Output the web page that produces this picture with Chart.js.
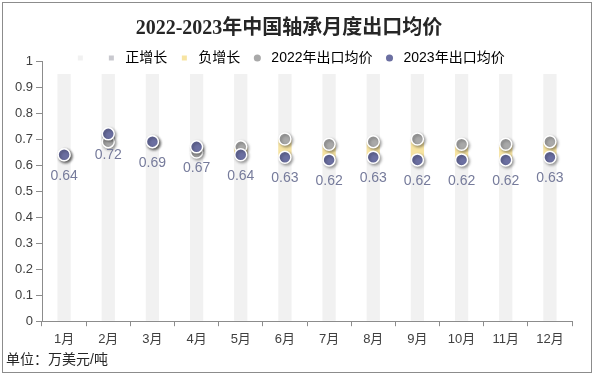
<!DOCTYPE html>
<html>
<head>
<meta charset="utf-8">
<script src="https://cdn.jsdelivr.net/npm/chart.js@4"></script>
<style>
  html, body { margin: 0; padding: 0; background: #fff; }
  #wrap { width: 596px; height: 376px; }
</style>
</head>
<body>
<div id="wrap"><canvas id="grafica" width="596" height="376"></canvas></div>
<script>
// Datos
const meses = ['1月', '2月', '3月', '4月', '5月', '6月', '7月', '8月', '9月', '10月', '11月', '12月'];
const precio2022 = [0.64, 0.69, 0.69, 0.65, 0.67, 0.70, 0.68, 0.69, 0.70, 0.68, 0.68, 0.69];
const precio2023 = [0.64, 0.72, 0.69, 0.67, 0.64, 0.63, 0.62, 0.63, 0.62, 0.62, 0.62, 0.63];
const fondo = [0.95, 0.95, 0.95, 0.95, 0.95, 0.95, 0.95, 0.95, 0.95, 0.95, 0.95, 0.95];

const fuente = "'Liberation Sans', 'Noto Sans CJK SC', sans-serif";
const colores = {
    fondo: '#f1f1f1',
    sube: '#c9c9cf',
    baja: '#f7e4a2',
    c2022: '#a9a9a9',
    c2023: '#6b6fa1'
};

// barras flotantes entre los dos años
const subida = precio2022.map((v, i) => precio2023[i] > v ? [v, precio2023[i]] : null);
const bajada = precio2022.map((v, i) => precio2023[i] < v ? [precio2023[i], v] : null);

// Sombra suave en los puntos
const sombraPuntos = {
    id: 'sombraPuntos',
    beforeDatasetDraw(chart, args) {
        if (chart.data.datasets[args.index].type !== 'line') return;
        const ctx = chart.ctx;
        ctx.save();
        ctx.shadowColor = 'rgba(0,0,0,0.35)';
        ctx.shadowBlur = 3;
        ctx.shadowOffsetX = 1.5;
        ctx.shadowOffsetY = 1.5;
    },
    afterDatasetDraw(chart, args) {
        if (chart.data.datasets[args.index].type !== 'line') return;
        chart.ctx.restore();
    }
};

// Etiquetas de valor 2023 debajo del punto
const etiquetas = {
    id: 'etiquetas',
    afterDatasetsDraw(chart) {
        const idx = chart.data.datasets.findIndex(d => d.label === '2023年出口均价');
        const meta = chart.getDatasetMeta(idx);
        const ctx = chart.ctx;
        ctx.save();
        ctx.font = '14px ' + fuente;
        ctx.fillStyle = '#767b9b';
        ctx.textAlign = 'center';
        ctx.textBaseline = 'middle';
        meta.data.forEach((p, i) => {
            ctx.fillText(precio2023[i].toFixed(2), p.x, p.y + 21);
        });
        ctx.restore();
    }
};

// Marco exterior
const marco = {
    id: 'marco',
    afterDraw(chart) {
        const ctx = chart.ctx;
        ctx.save();
        ctx.strokeStyle = '#8c8c8c';
        ctx.lineWidth = 1;
        ctx.strokeRect(2.5, 2.5, 589, 370);
        ctx.restore();
    }
};

// La leyenda se superpone a la parte alta del área del gráfico
const leyendaCompacta = {
    id: 'leyendaCompacta',
    beforeInit(chart) {
        const leyenda = chart.legend;
        const fitOriginal = leyenda.fit;
        leyenda.fit = function() {
            fitOriginal.call(this);
            this.height = 20;
        };
        // sin recorte, para que el texto no se corte
        leyenda.draw = function() {
            if (this.options.display) this._draw();
        };
    }
};

new Chart(document.getElementById('grafica'), {
    data: {
        labels: meses,
        datasets: [
            {
                type: 'line',
                label: '2023年出口均价',
                data: precio2023,
                showLine: false,
                pointRadius: 6,
                pointHoverRadius: 6,
                pointBackgroundColor: colores.c2023,
                pointBorderColor: '#fff',
                pointBorderWidth: 1.5,
                order: 0
            },
            {
                type: 'line',
                label: '2022年出口均价',
                data: precio2022,
                showLine: false,
                pointRadius: 6,
                pointHoverRadius: 6,
                pointBackgroundColor: colores.c2022,
                pointBorderColor: '#fff',
                pointBorderWidth: 1.5,
                order: 1
            },
            {
                type: 'bar',
                label: '正增长',
                data: subida,
                backgroundColor: colores.sube,
                grouped: false,
                categoryPercentage: 1,
                barPercentage: 0.3,
                order: 2
            },
            {
                type: 'bar',
                label: '负增长',
                data: bajada,
                backgroundColor: colores.baja,
                grouped: false,
                categoryPercentage: 1,
                barPercentage: 0.3,
                order: 2
            },
            {
                type: 'bar',
                label: '',
                data: fondo,
                backgroundColor: colores.fondo,
                grouped: false,
                categoryPercentage: 1,
                barPercentage: 0.3,
                order: 3
            }
        ]
    },
    options: {
        responsive: false,
        animation: false,
        layout: { padding: { top: 13, left: 6, right: 24, bottom: 5 } },
        plugins: {
            title: {
                display: true,
                text: '2022-2023年中国轴承月度出口均价',
                color: '#262626',
                font: { family: "'Liberation Serif', 'Noto Sans CJK SC', serif", size: 20, weight: 'bold' },
                padding: { top: 4, bottom: 0 }
            },
            subtitle: {
                display: true,
                text: '单位：万美元/吨',
                position: 'bottom',
                align: 'start',
                color: '#262626',
                font: { family: fuente, size: 14 },
                padding: { top: 0, bottom: 2 }
            },
            legend: {
                position: 'top',
                labels: {
                    usePointStyle: true,
                    boxHeight: 5,
                    padding: 10,
                    color: '#505050',
                    font: { family: fuente, size: 14 },
                    generateLabels() {
                        return [
                            { text: '', fillStyle: colores.fondo, strokeStyle: colores.fondo, lineWidth: 0, pointStyle: 'rect', datasetIndex: 4 },
                            { text: '正增长', fillStyle: colores.sube, strokeStyle: colores.sube, lineWidth: 0, pointStyle: 'rect', datasetIndex: 2 },
                            { text: '负增长', fillStyle: colores.baja, strokeStyle: colores.baja, lineWidth: 0, pointStyle: 'rect', datasetIndex: 3 },
                            { text: '2022年出口均价', fillStyle: colores.c2022, strokeStyle: colores.c2022, lineWidth: 0, pointStyle: 'circle', datasetIndex: 1 },
                            { text: '2023年出口均价', fillStyle: colores.c2023, strokeStyle: colores.c2023, lineWidth: 0, pointStyle: 'circle', datasetIndex: 0 }
                        ];
                    }
                }
            },
            tooltip: { enabled: false }
        },
        scales: {
            x: {
                offset: true,
                afterFit(scale) { scale.height = 31; },
                grid: { display: true, offset: true, drawOnChartArea: false, tickLength: 5, color: '#8c8c8c' },
                border: { color: '#8c8c8c' },
                ticks: { color: '#404040', font: { family: fuente, size: 13 }, padding: 5 }
            },
            y: {
                min: 0,
                max: 1,
                afterFit(scale) { scale.width = 36; },
                grid: { drawOnChartArea: false, tickLength: 6, color: '#8c8c8c' },
                border: { color: '#8c8c8c' },
                ticks: {
                    stepSize: 0.1,
                    color: '#404040',
                    font: { family: fuente, size: 13 },
                    padding: 3,
                    callback: v => String(Number(v.toFixed(1)))
                }
            }
        }
    },
    plugins: [leyendaCompacta, sombraPuntos, etiquetas, marco]
});
</script>
</body>
</html>
